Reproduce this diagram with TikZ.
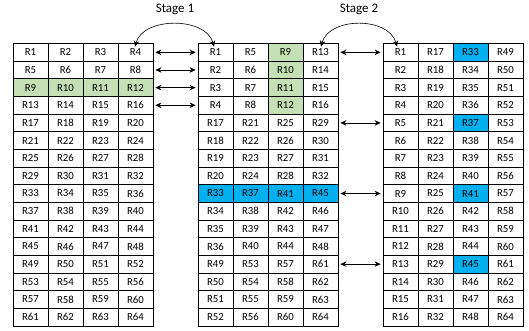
\documentclass[tikz,border=0pt]{standalone}
\usepackage{fontspec}
\setmainfont{Carlito}
\usetikzlibrary{arrows.meta}
\definecolor{cgreen}{HTML}{C5E0B4}
\definecolor{cblue}{HTML}{00B0F0}
\begin{document}
\begin{tikzpicture}[x=1pt,y=-1pt,
  cell/.style={draw=black,line width=0.8pt,minimum width=35pt,minimum height=17.65pt,
    inner sep=0pt,font=\fontsize{10.8}{12}\selectfont},
  link/.style={line width=0.6pt,{Stealth[length=6pt,width=5.5pt]}-{Stealth[length=6pt,width=5.5pt]}},
  stagelbl/.style={font=\fontsize{13}{15}\selectfont}]
\useasboundingbox (0,0) rectangle (529,331);
% three tables of 4 x 16 cells
\foreach \r in {1,...,16}{
  \foreach \c in {1,...,4}{
    \pgfmathtruncatemacro\va{4*(\r-1)+\c}
    \pgfmathtruncatemacro\vb{16*int((\r-1)/4)+4*(\c-1)+mod(\r-1,4)+1}
    \pgfmathtruncatemacro\vc{16*(\c-1)+\r}
    \pgfmathsetmacro\yy{43.5+17.65*(\r-0.5)}
    % fills
    \def\fa{white}\def\fb{white}\def\fc{white}
    \ifnum\r=3 \def\fa{cgreen}\fi
    \ifnum\c=3 \ifnum\r<5 \def\fb{cgreen}\fi\fi
    \ifnum\r=9 \def\fb{cblue}\fi
    \ifnum\c=3 \pgfmathtruncatemacro\mm{mod(\r-1,4)}\ifnum\mm=0 \def\fc{cblue}\fi\fi
    \node[cell,fill=\fa] (ta-\r-\c) at ({13+35*(\c-0.5)},\yy) {R\va};
    \node[cell,fill=\fb] (tb-\r-\c) at ({198+35*(\c-0.5)},\yy) {R\vb};
    \node[cell,fill=\fc] (tc-\r-\c) at ({383+35*(\c-0.5)},\yy) {R\vc};
  }
}
% row links between the tables
\foreach \r in {1,2,3,4}{
  \draw[link] ([xshift=2pt]ta-\r-4.east) -- ([xshift=-2pt]tb-\r-1.west);
}
\foreach \r in {1,5,9,13}{
  \draw[link] ([xshift=2pt]tb-\r-4.east) -- ([xshift=-2pt]tc-\r-1.west);
}
% stage arcs
\node[stagelbl] (s1) at (175,9) {Stage 1};
\node[stagelbl] (s2) at (359,9) {Stage 2};
\draw[link] ([xshift=-0.5pt,yshift=-3.5pt]ta-1-4.north) .. controls +(8,-30) and +(-8,-30) .. ([xshift=-1.5pt,yshift=-3.5pt]tb-1-1.north);
\draw[link] ([xshift=0.5pt,yshift=-3.5pt]tb-1-4.north) .. controls +(8,-30) and +(-8,-30) .. ([xshift=-3.5pt,yshift=-3.5pt]tc-1-1.north);
\end{tikzpicture}
\end{document}
